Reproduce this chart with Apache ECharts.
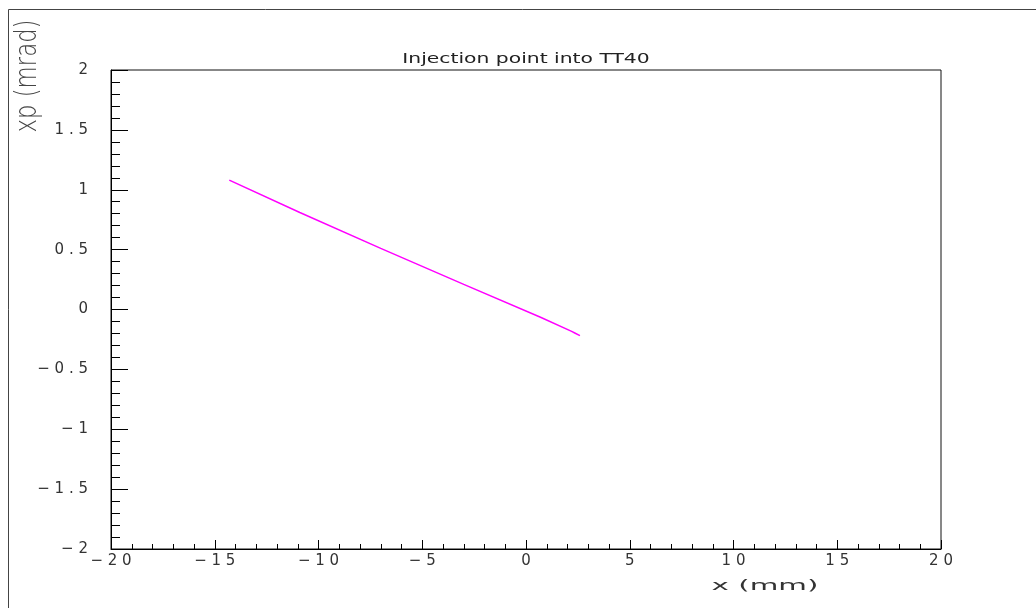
<!DOCTYPE html>
<html>
<head>
<meta charset="utf-8">
<script src="https://cdn.jsdelivr.net/npm/echarts@6/dist/echarts.min.js"></script>
<style>
html,body{margin:0;padding:0;background:#fff;overflow:hidden;}
#chart{width:1036px;height:608px;}
</style>
</head>
<body>
<div id="chart"></div>
<script>
// Data
var xValues = [-14.3, -10.9, -7.0, -3.0, 0.7, 2.2, 2.35, 2.6];
var xpValues = [1.08, 0.81, 0.51, 0.21, -0.065, -0.183, -0.196, -0.218];
var titleText = 'Injection point into TT40';
var xAxisTitle = 'x (mm)';
var yAxisTitle = 'xp (mrad)';

var points = xValues.map(function (x, i) { return [x, xpValues[i]]; });

function spread(v) {
  var s = String(v).replace('-', '\u2212');
  return s.split('').join(' ');
}

var FONT = 'DejaVu Sans';
var chart = echarts.init(document.getElementById('chart'), null, {renderer: 'canvas'});
chart.setOption({
  animation: false,
  backgroundColor: '#fff',
  grid: {left: 111, right: 95, top: 70, bottom: 59, show: true, borderColor: '#111', borderWidth: 1, backgroundColor: 'transparent'},
  xAxis: {
    type: 'value', min: -20, max: 20, interval: 5,
    axisLine: {show: true, onZero: false, lineStyle: {color: '#000', width: 1}},
    axisTick: {show: true, inside: true, length: 9, lineStyle: {color: '#000'}},
    minorTick: {show: true, splitNumber: 5, length: 5, lineStyle: {color: '#000'}},
    splitLine: {show: false},
    axisLabel: {formatter: spread, fontFamily: FONT, fontSize: 15, color: '#333', margin: 5}
  },
  yAxis: {
    type: 'value', min: -2, max: 2, interval: 0.5,
    axisLine: {show: true, onZero: false, lineStyle: {color: '#000', width: 1}},
    axisTick: {show: true, inside: true, length: 17, lineStyle: {color: '#000'}},
    minorTick: {show: true, splitNumber: 5, length: 9, lineStyle: {color: '#000'}},
    splitLine: {show: false},
    axisLabel: {formatter: spread, fontFamily: FONT, fontSize: 15, color: '#333', margin: 23}
  },
  series: [{
    type: 'line',
    data: points,
    symbol: 'none',
    lineStyle: {color: '#ff00ff', width: 1.5},
    itemStyle: {color: '#ff00ff'}
  }],
  graphic: [
    {type: 'rect', silent: true, shape: {x: 8.5, y: 9.5, width: 1100, height: 700},
     style: {fill: 'none', stroke: '#444', lineWidth: 1}},
    {type: 'text', x: 526, y: 59, scaleX: 1.45, scaleY: 1,
     style: {text: titleText, fontFamily: FONT, fontSize: 14, fill: '#222', align: 'center', verticalAlign: 'middle'}},
    {type: 'text', x: 765, y: 586, scaleX: 2.1, scaleY: 1,
     style: {text: xAxisTitle, fontFamily: FONT, fontSize: 14, fill: '#333', align: 'center', verticalAlign: 'middle'}},
    {type: 'text', x: 28, y: 76, rotation: Math.PI / 2, scaleX: 0.76, scaleY: 1,
     style: {text: yAxisTitle, fontFamily: FONT, fontSize: 30, fontWeight: 200, fill: '#444', align: 'center', verticalAlign: 'middle'}}
  ]
});
</script>
</body>
</html>
